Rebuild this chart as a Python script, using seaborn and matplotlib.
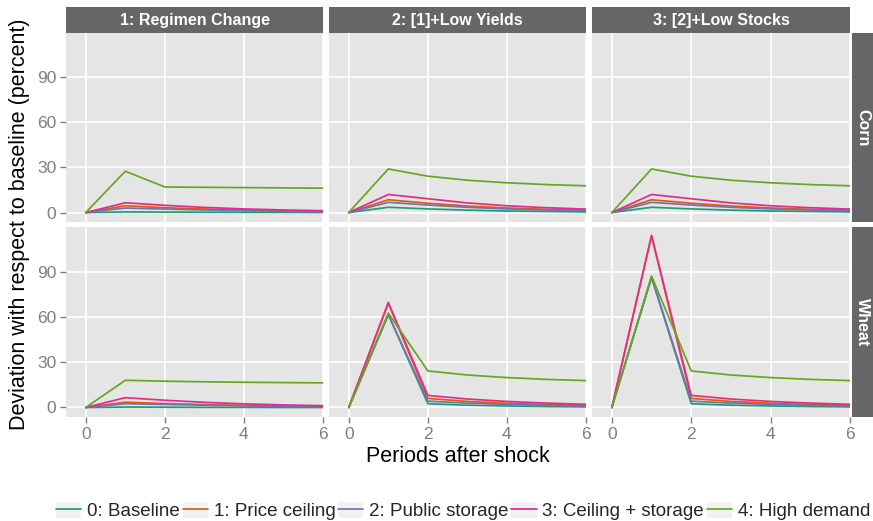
import numpy as np
import pandas as pd
import matplotlib
matplotlib.use("Agg")
import matplotlib.pyplot as plt
from matplotlib.patches import Rectangle
import seaborn as sns

# ---------------- data ----------------
periods = [0, 1, 2, 3, 4, 5, 6]
series_names = ["0: Baseline", "1: Price ceiling", "2: Public storage",
                "3: Ceiling + storage", "4: High demand"]
scenarios = ["1: Regimen Change", "2: [1]+Low Yields", "3: [2]+Low Stocks"]
crops = ["Corn", "Wheat"]

# Corn
corn_s1_baseline = [0, 0.4, 0.3, 0.2, 0.1, 0.1, 0.0]
corn_s1_ceiling = [0, 4.5, 3.2, 2.3, 1.6, 1.1, 0.8]
corn_s1_storage = [0, 3.0, 2.3, 1.7, 1.2, 0.8, 0.5]
corn_s1_ceil_stor = [0, 6.5, 4.8, 3.4, 2.4, 1.7, 1.2]
corn_s1_demand = [0, 27.5, 17.0, 16.8, 16.6, 16.4, 16.2]

corn_s2_baseline = [0, 3.5, 2.4, 1.6, 1.0, 0.7, 0.4]
corn_s2_ceiling = [0, 8.5, 6.2, 4.3, 3.0, 2.1, 1.5]
corn_s2_storage = [0, 6.8, 5.0, 3.5, 2.4, 1.7, 1.2]
corn_s2_ceil_stor = [0, 12.0, 9.2, 6.4, 4.5, 3.2, 2.3]
corn_s2_demand = [0, 29.0, 24.2, 21.5, 19.8, 18.6, 17.8]

corn_s3_baseline = [0, 3.5, 2.4, 1.6, 1.0, 0.7, 0.4]
corn_s3_ceiling = [0, 8.5, 6.2, 4.3, 3.0, 2.1, 1.5]
corn_s3_storage = [0, 6.8, 5.0, 3.5, 2.4, 1.7, 1.2]
corn_s3_ceil_stor = [0, 12.0, 9.2, 6.4, 4.5, 3.2, 2.3]
corn_s3_demand = [0, 29.0, 24.2, 21.5, 19.8, 18.6, 17.8]

# Wheat
wheat_s1_baseline = [0, 0.3, 0.2, 0.1, 0.1, 0.0, 0.0]
wheat_s1_ceiling = [0, 3.5, 2.6, 1.9, 1.4, 1.0, 0.7]
wheat_s1_storage = [0, 2.5, 2.0, 1.5, 1.1, 0.8, 0.5]
wheat_s1_ceil_stor = [0, 6.5, 4.8, 3.4, 2.4, 1.7, 1.2]
wheat_s1_demand = [0, 18.0, 17.4, 17.0, 16.7, 16.5, 16.3]

wheat_s2_baseline = [0, 61.5, 2.5, 1.5, 1.0, 0.6, 0.4]
wheat_s2_ceiling = [0, 69.0, 6.0, 4.0, 2.8, 2.0, 1.4]
wheat_s2_storage = [0, 61.5, 4.2, 2.9, 2.0, 1.4, 1.0]
wheat_s2_ceil_stor = [0, 69.5, 8.0, 5.6, 4.0, 2.9, 2.1]
wheat_s2_demand = [0, 62.5, 24.2, 21.5, 19.8, 18.6, 17.8]

wheat_s3_baseline = [0, 86.0, 2.5, 1.5, 1.0, 0.6, 0.4]
wheat_s3_ceiling = [0, 113.5, 6.0, 4.0, 2.8, 2.0, 1.4]
wheat_s3_storage = [0, 86.5, 4.2, 2.9, 2.0, 1.4, 1.0]
wheat_s3_ceil_stor = [0, 114.0, 8.0, 5.6, 4.0, 2.9, 2.1]
wheat_s3_demand = [0, 87.0, 24.2, 21.5, 19.8, 18.6, 17.8]

panels = {
    ("Corn", 0): [corn_s1_baseline, corn_s1_ceiling, corn_s1_storage, corn_s1_ceil_stor, corn_s1_demand],
    ("Corn", 1): [corn_s2_baseline, corn_s2_ceiling, corn_s2_storage, corn_s2_ceil_stor, corn_s2_demand],
    ("Corn", 2): [corn_s3_baseline, corn_s3_ceiling, corn_s3_storage, corn_s3_ceil_stor, corn_s3_demand],
    ("Wheat", 0): [wheat_s1_baseline, wheat_s1_ceiling, wheat_s1_storage, wheat_s1_ceil_stor, wheat_s1_demand],
    ("Wheat", 1): [wheat_s2_baseline, wheat_s2_ceiling, wheat_s2_storage, wheat_s2_ceil_stor, wheat_s2_demand],
    ("Wheat", 2): [wheat_s3_baseline, wheat_s3_ceiling, wheat_s3_storage, wheat_s3_ceil_stor, wheat_s3_demand],
}

x_ticks = [0, 2, 4, 6]
y_ticks = [0, 30, 60, 90]
colors = ["#1B9E77", "#D95F02", "#7570B3", "#E7298A", "#66A61E"]

rows = []
for (crop, si), lists in panels.items():
    for name, vals in zip(series_names, lists):
        for p, v in zip(periods, vals):
            rows.append(dict(crop=crop, scenario=scenarios[si], series=name, period=p, value=v))
df = pd.DataFrame(rows)

# ---------------- style ----------------
sns.set_theme(style="white")
plt.rcParams["font.family"] = ["Liberation Sans", "DejaVu Sans"]

W, H = 873, 521
fig = plt.figure(figsize=(W / 100, H / 100), dpi=100)

def px_axes(x0, y0, x1, y1):
    return fig.add_axes([x0 / W, 1 - y1 / H, (x1 - x0) / W, (y1 - y0) / H])

col_x = [(66, 323), (329, 586), (592, 850)]
row_y = [(33, 222), (227, 417)]
grey_txt = "#7F7F7F"
strip_col = "#666666"
palette = dict(zip(series_names, colors))

for ri, crop in enumerate(crops):
    for ci, scen in enumerate(scenarios):
        ax = px_axes(col_x[ci][0], row_y[ri][0], col_x[ci][1], row_y[ri][1])
        ax.set_facecolor("#E5E5E5")
        sub = df[(df.crop == crop) & (df.scenario == scen)]
        sns.lineplot(data=sub, x="period", y="value", hue="series",
                     hue_order=series_names, palette=palette, ax=ax,
                     legend=False, linewidth=1.25, estimator=None)
        ax.set_xlim(-0.5, 6.0)
        ax.set_ylim(-6.3, 119.5)
        ax.set_xticks(x_ticks)
        ax.set_yticks(y_ticks)
        ax.grid(True, color="white", linewidth=1.2)
        ax.set_axisbelow(True)
        for s in ax.spines.values():
            s.set_visible(False)
        ax.set_xlabel("")
        ax.set_ylabel("")
        ax.tick_params(axis="both", colors=grey_txt, labelcolor=grey_txt,
                       labelsize=12.5, length=4, width=1, pad=3)
        ax.tick_params(axis="both", which="both", direction="out")
        if ci == 0:
            ax.tick_params(axis="y", left=True, labelleft=True)
        else:
            ax.tick_params(axis="y", left=False, labelleft=False)
        if ri == 1:
            ax.tick_params(axis="x", bottom=True, labelbottom=True)
        else:
            ax.tick_params(axis="x", bottom=False, labelbottom=False)

        if ri == 0:
            sax = px_axes(col_x[ci][0], 7, col_x[ci][1], 33)
            sax.set_facecolor(strip_col)
            sax.set_xticks([]); sax.set_yticks([])
            for s in sax.spines.values():
                s.set_visible(False)
            sax.text(0.5, 0.5, scen, color="white", fontsize=11.5,
                     fontweight="bold", ha="center", va="center",
                     transform=sax.transAxes)
        if ci == 2:
            sax = px_axes(852, row_y[ri][0], 873, row_y[ri][1])
            sax.set_facecolor(strip_col)
            sax.set_xticks([]); sax.set_yticks([])
            for s in sax.spines.values():
                s.set_visible(False)
            sax.text(0.5, 0.5, crop, color="white", fontsize=11.5,
                     fontweight="bold", ha="center", va="center",
                     rotation=-90, transform=sax.transAxes)

fig.text(458 / W, 1 - 457 / H, "Periods after shock", fontsize=15.5,
         ha="center", va="center", color="black")
fig.text(20 / W, 1 - 224 / H, "Deviation with respect to baseline (percent)",
         fontsize=15.5, ha="center", va="center", rotation=90, color="black")

handles = [(Rectangle((0, 0), 1, 1, facecolor="#F2F2F2", edgecolor="none"),
            plt.Line2D([0], [0], color=c, linewidth=1.25)) for c in colors]
leg = fig.legend(handles, series_names, loc="center",
                 bbox_to_anchor=(463 / W, 1 - 511 / H), ncol=5,
                 frameon=False, fontsize=13.5, handlelength=1.35,
                 handleheight=1.0, handletextpad=0.3, columnspacing=0.15,
                 borderpad=0)

fig.savefig("out.png", dpi=100)
